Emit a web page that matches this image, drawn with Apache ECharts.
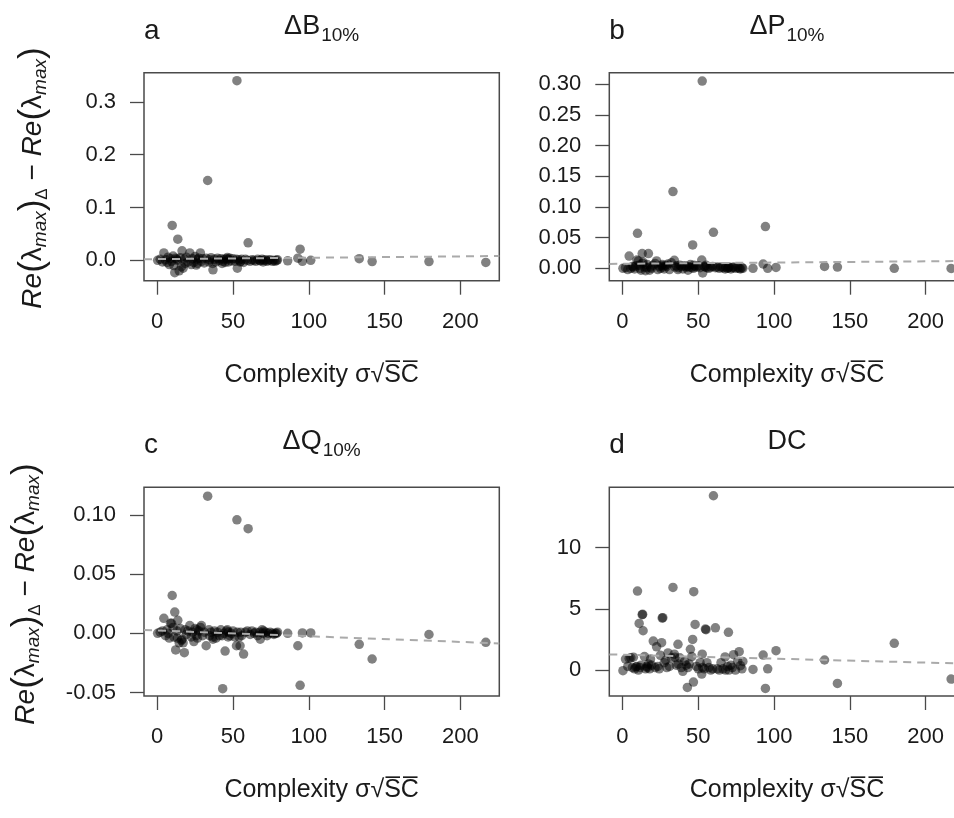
<!DOCTYPE html>
<html><head><meta charset="utf-8">
<script src="https://cdn.jsdelivr.net/npm/echarts@6/dist/echarts.min.js"></script>
<style>html,body{margin:0;padding:0;background:#fff}#c{width:954px;height:818px}</style>
</head><body><div id="c"></div>
<script>
// Complexity sigma*sqrt(SC) (shared x for all four panels)
const complexity = [0.3,2.0,3.5,4.4,5.5,6.5,7.2,8.0,8.8,9.5,9.9,10.5,11.0,11.6,12.2,13.0,13.3,13.6,14.5,15.2,16.0,16.4,17.1,17.9,18.5,19.2,20.3,21.5,22.5,23.3,24.2,25.0,25.8,26.2,26.6,27.5,28.5,29.2,30.0,31.0,32.3,33.3,34.2,34.6,35.5,36.6,36.8,37.8,38.8,39.8,41.0,42.0,42.8,43.2,44.0,44.8,45.7,46.3,46.8,47.0,47.9,48.8,50.0,51.2,52.3,52.6,52.9,54.0,54.7,55.1,55.7,57.0,58.2,59.5,60.0,61.3,62.5,63.9,65.0,66.3,67.7,68.0,69.2,69.9,70.2,71.5,72.5,73.3,74.5,76.0,77.0,77.8,78.8,79.4,86.1,92.8,94.3,95.8,101.3,133.3,141.8,179.3,216.8];
// a: Delta B 10%
const deltaB = [0.000,0.002,-0.003,0.014,0.001,-0.004,0.006,-0.008,0.003,-0.002,0.066,0.008,-0.010,-0.0235,0.004,0.002,0.000,0.040,-0.020,0.005,-0.012,0.018,-0.015,0.002,-0.006,0.006,-0.003,0.014,-0.008,0.003,-0.004,0.007,-0.009,0.002,-0.006,0.004,0.014,-0.002,0.003,-0.005,0.004,0.151,-0.003,0.001,0.005,-0.006,-0.018,0.002,-0.003,0.004,0.000,0.003,-0.006,-0.002,0.002,-0.004,0.003,0.0055,0.002,-0.003,0.004,-0.001,0.003,-0.002,0.002,0.340,-0.015,0.001,-0.003,-0.002,0.002,-0.004,0.002,0.000,0.033,-0.002,0.001,0.000,-0.002,0.002,0.000,-0.001,0.002,-0.003,0.000,0.001,-0.002,0.000,0.001,-0.002,0.000,-0.002,0.000,0.001,-0.001,0.004,0.021,-0.002,0.000,0.003,-0.0025,-0.0025,-0.004];
// b: Delta P 10%
const deltaP = [0.000,0.001,-0.002,0.020,0.000,0.003,0.002,-0.001,0.004,0.0135,0.057,0.012,0.005,0.000,-0.003,0.024,0.008,0.010,0.002,-0.004,0.001,0.006,0.024,-0.003,0.002,0.000,0.005,0.008,0.012,-0.002,0.003,0.000,0.004,0.006,0.002,-0.001,0.005,0.003,0.007,-0.002,0.009,0.125,0.013,0.002,0.004,-0.002,0.001,0.005,0.003,-0.001,0.004,0.002,0.003,-0.003,0.002,0.006,0.001,0.038,0.000,0.005,0.003,0.002,0.004,0.001,0.0135,0.305,-0.0075,0.003,0.002,0.005,0.001,0.000,0.002,0.003,0.0586,0.001,0.002,0.000,0.002,0.001,-0.001,0.002,0.000,0.001,0.002,-0.001,0.001,0.002,0.000,0.001,0.000,-0.001,0.001,0.000,0.000,0.007,0.068,0.000,0.0015,0.003,0.002,0.000,-0.0002];
// c: Delta Q 10%
const deltaQ = [0.000,0.001,0.002,0.0127,-0.002,0.003,0.000,-0.004,0.0085,0.0085,0.032,0.005,-0.003,0.018,-0.014,0.002,-0.004,0.011,-0.008,0.004,-0.006,-0.005,-0.008,-0.0164,0.003,-0.001,0.002,0.0066,-0.003,0.001,-0.007,0.004,-0.002,0.003,-0.004,0.002,0.005,0.0066,-0.002,0.001,-0.0105,0.116,0.003,-0.002,0.001,-0.003,-0.005,0.002,-0.004,0.001,-0.002,0.003,-0.002,-0.0468,0.000,-0.015,0.002,0.003,-0.003,0.001,-0.002,0.000,0.002,-0.003,-0.0105,0.096,0.001,-0.003,-0.0105,0.001,-0.002,-0.0175,0.001,0.002,0.0885,-0.001,0.002,0.000,0.001,-0.002,0.001,-0.005,0.003,0.000,0.002,0.001,-0.002,0.000,0.001,0.000,-0.001,0.000,0.000,0.001,0.000,-0.0105,-0.044,0.0003,0.0003,-0.0093,-0.0217,-0.001,-0.0076];
// d: DC
const dcValues = [-0.05,0.9,0.3,0.95,1.0,0.2,1.05,0.1,0.25,0.3,6.45,0.0,3.81,0.2,0.4,4.52,4.55,3.21,1.1,0.1,0.3,0.2,0.5,0.1,0.9,0.4,2.37,0.2,1.9,0.3,0.1,1.2,2.24,4.25,4.28,0.6,0.8,0.2,1.4,0.3,1.0,6.75,1.3,1.05,0.4,2.1,0.5,1.0,0.2,-0.1,0.7,0.4,-1.42,0.2,0.5,1.7,1.1,2.5,-0.98,6.4,3.73,0.3,0.1,0.6,-0.33,1.3,0.2,0.1,3.35,3.3,0.6,0.2,0.0,0.1,14.24,3.45,0.1,0.0,0.6,0.1,1.07,0.0,0.3,3.08,0.0,0.4,0.2,1.26,0.0,0.7,1.5,0.36,0.1,0.7,0.05,1.22,-1.5,0.1,1.58,0.82,-1.09,2.18,-0.74];

// dashed fitted lines: values at left and right edge of plot box
const trendB = [0.002, 0.0081];
const trendP = [0.0072, 0.0119];
const trendQ = [0.0028, -0.0085];
const trendDC = [1.28, 0.525];

const xRange = [-8.7, 225.7];
const xTicks = [0, 50, 100, 150, 200];
const yTicksB = [0, 0.1, 0.2, 0.3];
const yTicksP = [0, 0.05, 0.10, 0.15, 0.20, 0.25, 0.30];
const yTicksQ = [-0.05, 0, 0.05, 0.10];
const yTicksDC = [0, 5, 10];
const yRangeB = [-0.0386, 0.355];
const yRangeP = [-0.0202, 0.3186];
const yRangeQ = [-0.053, 0.1235];
const yRangeDC = [-2.12, 14.93];

const letters = ['a', 'b', 'c', 'd'];
const titleMain = ['ΔB', 'ΔP', 'ΔQ', 'DC'];
const titleSub = ['10%', '10%', '10%', ''];
const xTitle = 'Complexity σ√S\u0305C\u0305';

const FONT = '"Liberation Sans", Arial, Helvetica, sans-serif';
const INK = '#1a1a1a';
const BOX = '#4a4a4a';

const panels = [
  {ys: deltaB, trend: trendB, ticks: yTicksB, range: yRangeB, dec: 1},
  {ys: deltaP, trend: trendP, ticks: yTicksP, range: yRangeP, dec: 2},
  {ys: deltaQ, trend: trendQ, ticks: yTicksQ, range: yRangeQ, dec: 2},
  {ys: dcValues, trend: trendDC, ticks: yTicksDC, range: yRangeDC, dec: 0}
];
const gridPos = [
  {left: 144, top: 72.7, width: 355.3, height: 208},
  {left: 609.3, top: 72.7, width: 355.3, height: 208},
  {left: 144, top: 487.3, width: 355.3, height: 208.7},
  {left: 609.3, top: 487.3, width: 355.3, height: 208.7}
];

const grid = [], xAxis = [], yAxis = [], series = [], graphic = [];
panels.forEach((p, i) => {
  const g = gridPos[i];
  grid.push(Object.assign({show: true, borderColor: BOX, borderWidth: 1.5, backgroundColor: 'transparent', containLabel: false, outerBoundsMode: 'none'}, g));
  xAxis.push({
    type: 'value', gridIndex: i, min: xRange[0], max: xRange[1], position: 'bottom',
    axisLine: {show: false, onZero: false}, splitLine: {show: false},
    axisTick: {show: true, inside: false, customValues: xTicks, length: 14, lineStyle: {color: BOX, width: 1.3}},
    axisLabel: {customValues: xTicks, margin: 30, fontSize: 22, color: INK, fontFamily: FONT},
    name: xTitle, nameLocation: 'middle', nameGap: 82,
    nameTextStyle: {fontSize: 25, color: INK, fontFamily: FONT}
  });
  yAxis.push({
    type: 'value', gridIndex: i, min: p.range[0], max: p.range[1], position: 'left',
    axisLine: {show: false, onZero: false}, splitLine: {show: false},
    axisTick: {show: true, inside: false, customValues: p.ticks, length: 14, lineStyle: {color: BOX, width: 1.3}},
    axisLabel: {customValues: p.ticks, margin: 28, fontSize: 22, color: INK, fontFamily: FONT,
      formatter: v => Number(v).toFixed(p.dec)}
  });
  series.push({
    type: 'scatter', xAxisIndex: i, yAxisIndex: i, symbolSize: 9.5,
    itemStyle: {color: 'rgba(0,0,0,0.62)'},
    data: complexity.map((x, k) => [x, p.ys[k]]), z: 2
  });
  series.push({
    type: 'line', xAxisIndex: i, yAxisIndex: i, symbol: 'none', silent: true,
    lineStyle: {color: '#aaaaaa', width: 2, type: [8, 6]},
    data: [[xRange[0], p.trend[0]], [xRange[1], p.trend[1]]], z: 3
  });
  const cx = g.left + g.width / 2;
  const dy = g.top - 72.7;
  graphic.push({type: 'text', x: g.left, y: 31 + dy,
    style: {text: letters[i], fontSize: 28, fill: INK, fontFamily: FONT, align: 'left', verticalAlign: 'middle'}});
  graphic.push({type: 'text', x: cx, y: 27 + dy,
    style: {text: '{m|' + titleMain[i] + '}' + (titleSub[i] ? '{s|' + titleSub[i] + '}' : ''),
      align: 'center', verticalAlign: 'middle', fill: INK, fontFamily: FONT,
      rich: {m: {fontSize: 27, fill: INK, fontFamily: FONT},
             s: {fontSize: 19, fill: INK, fontFamily: FONT, padding: [18, 0, 0, 1]}}}});
});

const ylabRich = {
  i: {fontSize: 28, fontStyle: 'italic', fill: INK, fontFamily: FONT},
  n: {fontSize: 28, fill: INK, fontFamily: FONT},
  p: {fontSize: 35, fill: INK, fontFamily: FONT},
  s: {fontSize: 19, fontStyle: 'italic', fill: INK, fontFamily: FONT, padding: [15, 0, 0, 0]},
  d: {fontSize: 17, fill: INK, fontFamily: FONT, padding: [19, 0, 0, 0]}
};
const ylabText = '{i|Re}{p|(}{n|λ}{s|max}{p|)}{d|Δ}{n| − }{i|Re}{p|(}{n|λ}{s|max}{p|)}';
graphic.push({type: 'text', x: 33, y: 178, rotation: Math.PI / 2,
  style: {text: ylabText, rich: ylabRich, align: 'center', verticalAlign: 'middle', fill: INK, fontFamily: FONT}});
graphic.push({type: 'text', x: 26, y: 594, rotation: Math.PI / 2,
  style: {text: ylabText, rich: ylabRich, align: 'center', verticalAlign: 'middle', fill: INK, fontFamily: FONT}});

const chart = echarts.init(document.getElementById('c'), null, {renderer: 'canvas'});
chart.setOption({animation: false, backgroundColor: '#ffffff', grid, xAxis, yAxis, series, graphic});
</script>
</body></html>
